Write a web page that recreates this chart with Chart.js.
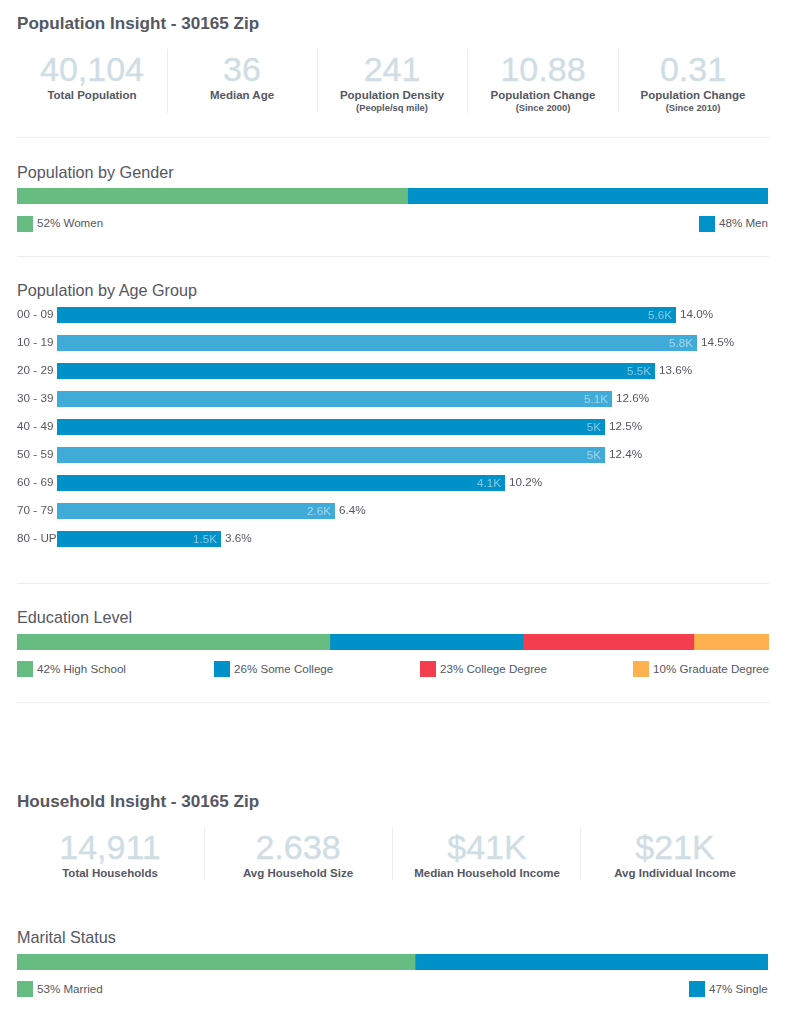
<!DOCTYPE html>
<html>
<head>
<meta charset="utf-8">
<title>Population Insight</title>
<script src="https://cdn.jsdelivr.net/npm/chart.js@4/dist/chart.umd.min.js"></script>
<style>
    html, body { margin: 0; padding: 0; background: #fff; }
    body { position: relative; width: 806px; height: 1021px; overflow: hidden; font-family: "Liberation Sans", Arial, sans-serif; color: #555763; }
    .txt { position: absolute; white-space: nowrap; transform: translateY(-50%); line-height: 1; }
    .center { transform: translate(-50%, -50%); }
    .heading { font-size: 17.1px; font-weight: bold; }
    .section { font-size: 16.2px; }
    .big { font-size: 34px; color: #cfdde4; -webkit-text-stroke: 0.3px #cfdde4; }
    .label { font-size: 11.5px; font-weight: bold; }
    .sub { font-size: 9.4px; font-weight: bold; }
    .legend { font-size: 11.6px; }
    .rule { position: absolute; left: 17px; width: 752px; height: 1px; background: #ebedef; }
    .divider { position: absolute; width: 1px; background: #ebedef; }
    .swatch { position: absolute; width: 16px; height: 16px; }
    .chart-box { position: absolute; left: 17px; }
</style>
</head>
<body>
<div class="chart-box" style="top:188px;width:751px;height:16px"><canvas id="gender-chart"></canvas></div>
<div class="chart-box" style="top:301px;width:751px;height:252px"><canvas id="age-chart"></canvas></div>
<div class="chart-box" style="top:634px;width:752px;height:16px"><canvas id="education-chart"></canvas></div>
<div class="chart-box" style="top:954px;width:751px;height:16px"><canvas id="marital-chart"></canvas></div>

<script>
// Chart data
const genderLabels = ['52% Women', '48% Men'];
const genderValues = [52, 48];

const ageGroups = ['00 - 09', '10 - 19', '20 - 29', '30 - 39', '40 - 49', '50 - 59', '60 - 69', '70 - 79', '80 - UP'];
const ageCounts = [5572, 5761, 5383, 4996, 4933, 4933, 4033, 2502, 1476];
const ageCountLabels = ['5.6K', '5.8K', '5.5K', '5.1K', '5K', '5K', '4.1K', '2.6K', '1.5K'];
const agePercents = ['14.0%', '14.5%', '13.6%', '12.6%', '12.5%', '12.4%', '10.2%', '6.4%', '3.6%'];

const educationLabels = ['42% High School', '26% Some College', '23% College Degree', '10% Graduate Degree'];
const educationValues = [41.6, 25.7, 22.7, 10];

const maritalLabels = ['53% Married', '47% Single'];
const maritalValues = [53, 47];

const populationStats = ['40,104', '36', '241', '10.88', '0.31'];
const populationStatLabels = ['Total Population', 'Median Age', 'Population Density', 'Population Change', 'Population Change'];
const populationStatNotes = ['', '', '(People/sq mile)', '(Since 2000)', '(Since 2010)'];

const householdStats = ['14,911', '2.638', '$41K', '$21K'];
const householdStatLabels = ['Total Households', 'Avg Household Size', 'Median Household Income', 'Avg Individual Income'];

const GREEN = '#67bd81';
const BLUE = '#0091c9';
const LIGHT_BLUE = '#40abd8';
const RED = '#f53d50';
const ORANGE = '#ffb150';

function addText(text, x, y, cls, centered) {
    const el = document.createElement('div');
    el.className = 'txt ' + cls + (centered ? ' center' : '');
    el.textContent = text;
    el.style.left = x + 'px';
    el.style.top = y + 'px';
    document.body.appendChild(el);
}

function addRule(y) {
    const el = document.createElement('div');
    el.className = 'rule';
    el.style.top = y + 'px';
    document.body.appendChild(el);
}

function addDivider(x, top, height) {
    const el = document.createElement('div');
    el.className = 'divider';
    el.style.left = x + 'px';
    el.style.top = top + 'px';
    el.style.height = height + 'px';
    document.body.appendChild(el);
}

function addLegendItem(text, color, x, y, textY) {
    const el = document.createElement('div');
    el.className = 'swatch';
    el.style.left = x + 'px';
    el.style.top = y + 'px';
    el.style.background = color;
    document.body.appendChild(el);
    addText(text, x + 20, textY, 'legend');
}

// Single stacked bar, used for gender, education and marital status
function stackedBar(id, values, colors) {
    new Chart(document.getElementById(id), {
        type: 'bar',
        data: {
            labels: [''],
            datasets: values.map((v, i) => ({
                data: [v],
                backgroundColor: colors[i],
                categoryPercentage: 1,
                barPercentage: 1
            }))
        },
        options: {
            indexAxis: 'y',
            responsive: true,
            maintainAspectRatio: false,
            animation: false,
            layout: { padding: 0 },
            plugins: { legend: { display: false }, tooltip: { enabled: false } },
            scales: {
                x: { stacked: true, display: false, min: 0, max: 100 },
                y: { stacked: true, display: false }
            }
        }
    });
}

// Draws count labels inside the bars and percents after them
const ageLabelsPlugin = {
    id: 'ageLabels',
    afterDatasetsDraw(chart) {
        const ctx = chart.ctx;
        const bars = chart.getDatasetMeta(0).data;
        ctx.save();
        ctx.font = '11.7px "Liberation Sans", Arial, sans-serif';
        ctx.textBaseline = 'middle';
        bars.forEach((bar, i) => {
            ctx.textAlign = 'right';
            ctx.fillStyle = 'rgba(255, 255, 255, 0.5)';
            ctx.fillText(ageCountLabels[i], bar.x - 4, bar.y + 1);
            ctx.textAlign = 'left';
            ctx.fillStyle = '#555763';
            ctx.fillText(agePercents[i], bar.x + 4, bar.y);
        });
        ctx.restore();
    }
};

function ageChart() {
    new Chart(document.getElementById('age-chart'), {
        type: 'bar',
        data: {
            labels: ageGroups,
            datasets: [{
                data: ageCounts,
                backgroundColor: ageCounts.map((v, i) => (i % 2 === 0 ? BLUE : LIGHT_BLUE)),
                categoryPercentage: 1,
                barPercentage: 16 / 28
            }]
        },
        options: {
            indexAxis: 'y',
            responsive: true,
            maintainAspectRatio: false,
            animation: false,
            layout: { padding: 0, autoPadding: false },
            plugins: { legend: { display: false }, tooltip: { enabled: false } },
            scales: {
                x: { display: false, min: 0, max: 6400 },
                y: {
                    afterFit(scale) {
                        // fixed label column, and no extra room for first/last tick text
                        scale.width = 40;
                        scale.paddingTop = 0;
                        scale.paddingBottom = 0;
                    },
                    border: { display: false },
                    grid: { display: false, drawTicks: false },
                    ticks: {
                        crossAlign: 'far',
                        padding: 0,
                        color: '#555763',
                        font: { family: '"Liberation Sans", Arial, sans-serif', size: 11.7 }
                    }
                }
            }
        },
        plugins: [ageLabelsPlugin]
    });
}

function initPage() {
    // Population header
    addText('Population Insight - 30165 Zip', 17, 24, 'heading');
    const popCenters = [92, 242, 392, 543, 693];
    populationStats.forEach((stat, i) => {
        addText(stat, popCenters[i], 69, 'big', true);
        addText(populationStatLabels[i], popCenters[i], 96, 'label', true);
        if (populationStatNotes[i]) addText(populationStatNotes[i], popCenters[i], 107.5, 'sub', true);
    });
    [167, 317, 467, 618].forEach(x => addDivider(x, 49, 64));
    addRule(137);

    // Gender
    addText('Population by Gender', 17, 172.4, 'section');
    addLegendItem(genderLabels[0], GREEN, 17, 216, 223);
    addLegendItem(genderLabels[1], BLUE, 699, 216, 223);
    addRule(256);

    // Age
    addText('Population by Age Group', 17, 290.4, 'section');
    addRule(583);

    // Education
    addText('Education Level', 17, 617.4, 'section');
    const eduColors = [GREEN, BLUE, RED, ORANGE];
    const eduLegendX = [17, 214, 420, 633];
    educationLabels.forEach((label, i) => addLegendItem(label, eduColors[i], eduLegendX[i], 661, 669));
    addRule(702);

    // Household header
    addText('Household Insight - 30165 Zip', 17, 802, 'heading');
    const houseCenters = [110, 298, 487, 675];
    householdStats.forEach((stat, i) => {
        addText(stat, houseCenters[i], 847, 'big', true);
        addText(householdStatLabels[i], houseCenters[i], 873.5, 'label', true);
    });
    [204, 392, 580].forEach(x => addDivider(x, 827, 53));

    // Marital status
    addText('Marital Status', 17, 937.4, 'section');
    addLegendItem(maritalLabels[0], GREEN, 17, 981, 989);
    addLegendItem(maritalLabels[1], BLUE, 689, 981, 989);

    stackedBar('gender-chart', genderValues, [GREEN, BLUE]);
    ageChart();
    stackedBar('education-chart', educationValues, eduColors);
    stackedBar('marital-chart', maritalValues, [GREEN, BLUE]);
}

initPage();
</script>
</body>
</html>
